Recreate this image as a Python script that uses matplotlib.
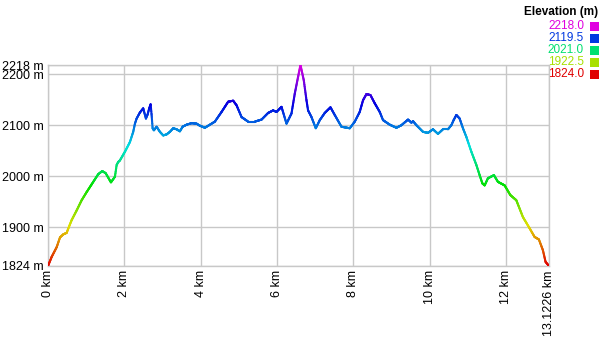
import numpy as np
import matplotlib
matplotlib.use("Agg")
import matplotlib.pyplot as plt
from matplotlib.collections import LineCollection
from matplotlib.colors import hsv_to_rgb
from matplotlib.patches import Rectangle

plt.rcParams['font.family'] = ['Liberation Sans', 'DejaVu Sans']

distance_km = [0.0, 0.097, 0.228, 0.314, 0.400, 0.489, 0.550, 0.620, 0.751, 0.882,
               1.013, 1.143, 1.316, 1.421, 1.510, 1.649, 1.753, 1.798, 1.840, 1.884,
               2.015, 2.146, 2.232, 2.277, 2.321, 2.408, 2.494, 2.565, 2.609, 2.651,
               2.688, 2.714, 2.740, 2.774, 2.845, 2.931, 3.018, 3.107, 3.193, 3.279,
               3.368, 3.455, 3.525, 3.630, 3.761, 3.892, 3.978, 4.109, 4.371, 4.546,
               4.719, 4.850, 4.939, 5.069, 5.242, 5.417, 5.593, 5.765, 5.896, 5.985,
               6.116, 6.247, 6.378, 6.464, 6.551, 6.613, 6.700, 6.770, 6.812, 6.901,
               7.014, 7.119, 7.249, 7.399, 7.511, 7.686, 7.904, 8.035, 8.165, 8.252,
               8.341, 8.446, 8.558, 8.689, 8.775, 8.951, 9.126, 9.257, 9.430, 9.519,
               9.561, 9.649, 9.822, 9.953, 10.084, 10.215, 10.345, 10.476, 10.565, 10.625,
               10.696, 10.782, 10.869, 10.958, 11.089, 11.220, 11.306, 11.377, 11.437, 11.523,
               11.680, 11.785, 11.960, 12.110, 12.266, 12.439, 12.614, 12.745, 12.858, 12.963,
               13.033, 13.1226]
elevation_m = [1824, 1842, 1861, 1880, 1886, 1889, 1901, 1914, 1933, 1953,
               1969, 1984, 2004, 2010, 2006, 1988, 1999, 2022, 2028, 2031,
               2048, 2067, 2087, 2103, 2113, 2125, 2133, 2113, 2121, 2133,
               2141, 2120, 2094, 2090, 2097, 2087, 2080, 2082, 2087, 2094,
               2092, 2088, 2097, 2101, 2104, 2103, 2099, 2095, 2107, 2126,
               2146, 2148, 2139, 2116, 2107, 2107, 2111, 2124, 2129, 2126,
               2136, 2103, 2123, 2162, 2195, 2218, 2188, 2149, 2129, 2116,
               2094, 2110, 2124, 2135, 2120, 2097, 2094, 2107, 2126, 2149,
               2161, 2159, 2143, 2126, 2110, 2101, 2095, 2100, 2111, 2105,
               2108, 2100, 2087, 2085, 2092, 2083, 2092, 2092, 2100, 2110,
               2120, 2113, 2094, 2077, 2048, 2022, 2002, 1986, 1982, 1996,
               2002, 1989, 1982, 1963, 1953, 1920, 1898, 1881, 1876, 1855,
               1832, 1824]

y_ticks = [1824, 1900, 2000, 2100, 2200, 2218]
x_ticks = [0, 2, 4, 6, 8, 10, 12, 13.1226]
x_labels = ["0 km", "2 km", "4 km", "6 km", "8 km", "10 km", "12 km", "13.1226 km"]
legend_values = [2218.0, 2119.5, 2021.0, 1922.5, 1824.0]

emin, emax = 1824.0, 2218.0


def elev_color(e):
    h = (np.clip(e, emin, emax) - emin) / (emax - emin) * (300.0 / 360.0)
    return hsv_to_rgb([h, 1.0, 0.88])


fig = plt.figure(figsize=(6.01, 3.41), dpi=100)
W, H = 601, 341
ax = fig.add_axes([48 / W, (H - 266) / H, (549 - 48) / W, (266 - 65) / H])

# densify for smooth colour gradient
xs = np.array(distance_km)
ys = np.array(elevation_m, dtype=float)
xd = np.union1d(np.linspace(xs[0], xs[-1], 2000), xs)
yd = np.interp(xd, xs, ys)
pts = np.column_stack([xd, yd]).reshape(-1, 1, 2)
segs = np.concatenate([pts[:-1], pts[1:]], axis=1)
mid = (yd[:-1] + yd[1:]) / 2
cols = [elev_color(m) for m in mid]
lc = LineCollection(segs, colors=cols, linewidths=1.5, capstyle='round', zorder=3)
ax.add_collection(lc)

ax.set_xlim(0, 13.1226)
ax.set_ylim(emin, emax)
ax.set_yticks(y_ticks)
ax.set_yticklabels([f"{v} m" for v in y_ticks])
ax.set_xticks(x_ticks)
ax.set_xticklabels(x_labels, rotation=90)
ax.tick_params(length=0, labelsize=9, colors='black', pad=3)
ax.grid(True, color='#c8c8c8', linewidth=1.0)
for s in ax.spines.values():
    s.set_color('#c8c8c8')
    s.set_linewidth(1.0)
ax.set_axisbelow(True)

# legend
fig.text(598 / W, 1 - 12 / H, "Elevation (m)", ha='right', va='center',
         fontsize=8.5, fontweight='bold')
for i, v in enumerate(legend_values):
    yc = 26 + 12 * i
    c = elev_color(v)
    fig.text(584 / W, 1 - yc / H, f"{v:.1f}", ha='right', va='center',
             fontsize=8.5, color=c)
    fig.patches.append(Rectangle((590 / W, 1 - (yc + 4.5) / H), 9 / W, 9 / H,
                                 transform=fig.transFigure, facecolor=c,
                                 edgecolor='none'))

fig.savefig("out.png", dpi=100)
